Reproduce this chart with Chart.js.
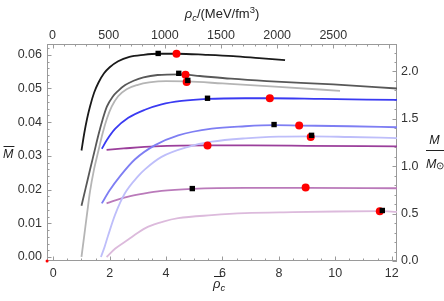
<!DOCTYPE html>
<html>
<head>
<meta charset="utf-8">
<script src="https://cdn.jsdelivr.net/npm/chart.js@4.4.1/dist/chart.umd.min.js"></script>
<style>
  html, body { margin: 0; padding: 0; background: #fff; }
  #wrap { width: 444px; height: 301px; position: relative; }
</style>
</head>
<body>
<div id="wrap"><canvas id="chart" width="444" height="301"></canvas></div>
<script>
// curves: [rho_bar_c, M_bar]
const blackCurve = [[1.0,0.0316],[1.1,0.0368],[1.2,0.0411],[1.3,0.0446],[1.45,0.0488],[1.6,0.0517],[1.8,0.0545],[2.0,0.0563],[2.3,0.0581],[2.7,0.0594],[3.2,0.0600],[3.72,0.0603],[4.4,0.0603],[5.4,0.0600],[6.38,0.0596],[7.3,0.0590],[8.22,0.0584]];
const darkGrayCurve = [[1.0,0.0152],[1.15,0.0205],[1.3,0.0258],[1.45,0.0310],[1.6,0.0362],[1.75,0.0408],[1.9,0.0446],[2.1,0.0475],[2.3,0.0493],[2.55,0.0510],[2.85,0.0523],[3.2,0.0533],[3.7,0.0540],[4.5,0.0542],[5.2,0.0537],[6.3,0.0529],[7.57,0.0522],[9.93,0.0512],[12.19,0.0500]];
const lightGrayCurve = [[1.0,0.0],[1.1,0.0065],[1.2,0.0130],[1.3,0.0193],[1.45,0.0262],[1.6,0.0315],[1.75,0.0367],[1.9,0.0410],[2.07,0.0446],[2.3,0.0477],[2.6,0.0498],[3.0,0.0511],[3.4,0.0518],[4.0,0.0522],[4.75,0.0521],[6.0,0.0515],[8.0,0.0505],[10.17,0.0493]];
const blueCurve = [[1.72,0.0321],[1.9,0.0347],[2.19,0.0380],[2.66,0.0413],[3.25,0.0437],[3.84,0.0453],[4.55,0.0463],[5.47,0.0469],[6.8,0.0471],[7.68,0.0471],[9.5,0.0469],[12.19,0.0466]];
const midBlueCurve = [[1.72,0.0159],[2.0,0.0198],[2.37,0.0240],[2.9,0.0290],[3.61,0.0332],[4.43,0.0361],[5.62,0.0381],[6.8,0.0388],[7.83,0.0391],[8.72,0.0390],[10.5,0.0388],[12.19,0.0385]];
const lightBlueCurve = [[1.69,0.0],[1.82,0.003],[1.95,0.0065],[2.19,0.0125],[2.54,0.0189],[3.01,0.0240],[3.25,0.0260],[3.84,0.0297],[4.79,0.0327],[5.62,0.0342],[6.8,0.0352],[8.0,0.0357],[9.16,0.0358],[10.5,0.0356],[12.19,0.0353]];
const purpleCurve = [[1.89,0.0318],[2.5,0.0322],[3.6,0.0328],[5.47,0.0331],[7.0,0.0331],[9.0,0.0330],[12.19,0.0328]];
const midPurpleCurve = [[1.89,0.0159],[2.2,0.0168],[2.66,0.0179],[3.2,0.0188],[3.84,0.0196],[4.93,0.0202],[6.8,0.0205],[8.95,0.0205],[12.19,0.0204]];
const lightPurpleCurve = [[1.89,0.0],[2.2,0.0025],[2.66,0.0052],[3.0,0.0072],[3.37,0.0090],[3.9,0.0105],[4.43,0.0115],[5.62,0.0124],[6.8,0.0130],[8.5,0.0133],[10.0,0.0135],[11.6,0.0136],[12.19,0.0134]];

// black squares and red dots on the curves
const squareX = [3.72, 4.45, 4.77, 5.47, 7.83, 9.16, 4.93, 11.67];
const squareY = [0.0604, 0.0545, 0.0524, 0.0471, 0.0393, 0.0361, 0.0203, 0.0138];
const dotX = [4.37, 4.69, 4.73, 7.68, 8.72, 9.13, 5.47, 8.95, 11.58];
const dotY = [0.0603, 0.0541, 0.0519, 0.0471, 0.0390, 0.0356, 0.0331, 0.0206, 0.0136];

// axis ticks
const bottomTicks = [0, 2, 4, 6, 8, 10, 12];
const topTicks = [0, 500, 1000, 1500, 2000, 2500];
const leftTicks = [0.00, 0.01, 0.02, 0.03, 0.04, 0.05, 0.06];
const rightTicks = [0.0, 0.5, 1.0, 1.5, 2.0];

const X_MIN = -0.223, X_MAX = 12.19;
const TOP_MIN = -49.4, TOP_MAX = 3067;
const Y_MIN = -0.00119, Y_MAX = 0.0632;
const R_MIN = 0, R_MAX = 2.29;

const FONT = 'Liberation Sans';
const tickFont = { family: FONT, size: 12.5 };
const tickColor = '#333';
const frameColor = '#9a9a9a';

const toPts = arr => arr.map(p => ({ x: p[0], y: p[1] }));

const lines = [
  [blackCurve, '#1a1a1a'],
  [darkGrayCurve, '#585858'],
  [lightGrayCurve, '#b5b5b5'],
  [blueCurve, '#3a3af2'],
  [midBlueCurve, '#7e7ef3'],
  [lightBlueCurve, '#bebefa'],
  [purpleCurve, '#9b3f9b'],
  [midPurpleCurve, '#ba7aba'],
  [lightPurpleCurve, '#dcbadc'],
];

const datasets = lines.map(([curve, color]) => ({
  data: toPts(curve),
  showLine: true,
  borderColor: color,
  borderWidth: 1.8,
  pointRadius: 0,
  cubicInterpolationMode: 'monotone',
  order: 3,
}));

datasets.push({
  data: dotX.map((x, i) => ({ x, y: dotY[i] })),
  pointStyle: 'circle',
  pointRadius: 4,
  backgroundColor: '#ff0000',
  borderWidth: 0,
  order: 2,
});
datasets.push({
  data: squareX.map((x, i) => ({ x, y: squareY[i] })),
  pointStyle: 'rect',
  pointRadius: 3.8,
  backgroundColor: '#000',
  borderWidth: 0,
  order: 1,
});
// tiny red mark at the lower left corner
datasets.push({
  data: [{ x: -0.22, y: -0.0012 }],
  pointRadius: 1.5,
  backgroundColor: '#ff0000',
  borderWidth: 0,
  clip: false,
  order: 0,
});

function axis(position, min, max, values, fmt, size, pad) {
  const horizontal = position === 'top' || position === 'bottom';
  return {
    type: 'linear',
    position,
    min, max,
    display: true,
    afterBuildTicks: s => { s.ticks = values.map(v => ({ value: v })); },
    afterFit: s => { if (horizontal) s.height = size; else s.width = size; },
    grid: { display: false, drawTicks: false },
    border: { display: false },
    ticks: {
      font: tickFont,
      color: tickColor,
      padding: pad,
      autoSkip: false,
      maxRotation: 0,
      callback: fmt,
    },
  };
}

// frame with inward ticks like a Mathematica frame
const frameTicks = {
  id: 'frameTicks',
  beforeDatasetsDraw(chart) {
    const { ctx, chartArea: a, scales } = chart;
    ctx.save();
    ctx.strokeStyle = frameColor;
    ctx.lineWidth = 1;
    ctx.strokeRect(a.left + 0.5, a.top + 0.5, a.right - a.left - 1, a.bottom - a.top - 1);
    const mark = (scale, major, minor, side) => {
      const start = Math.ceil(scale.min / minor - 1e-6);
      const end = Math.floor(scale.max / minor + 1e-6);
      for (let i = start; i <= end; i++) {
        const v = i * minor;
        const isMajor = Math.abs(v / major - Math.round(v / major)) < 1e-6;
        const len = isMajor ? 4.5 : 2.5;
        const p = Math.round(scale.getPixelForValue(v)) + 0.5;
        ctx.beginPath();
        if (side === 'bottom') { ctx.moveTo(p, a.bottom); ctx.lineTo(p, a.bottom - len); }
        if (side === 'top') { ctx.moveTo(p, a.top); ctx.lineTo(p, a.top + len); }
        if (side === 'left') { ctx.moveTo(a.left, p); ctx.lineTo(a.left + len, p); }
        if (side === 'right') { ctx.moveTo(a.right, p); ctx.lineTo(a.right - len, p); }
        ctx.stroke();
      }
    };
    mark(scales.x, 2, 0.5, 'bottom');
    mark(scales.x2, 500, 100, 'top');
    mark(scales.y, 0.01, 0.002, 'left');
    mark(scales.y2, 0.5, 0.1, 'right');
    ctx.restore();
  },
  afterDraw(chart) {
    const { ctx } = chart;
    ctx.save();
    ctx.fillStyle = '#222';
    ctx.textBaseline = 'alphabetic';
    const it = sz => 'italic ' + sz + 'px "' + FONT + '"';
    const up = sz => sz + 'px "' + FONT + '"';

    // top title: rho_c/(MeV/fm^3)
    const parts = [
      { t: 'ρ', f: it(13), dy: 0 },
      { t: 'c', f: it(9.5), dy: 3 },
      { t: '/(MeV/fm', f: up(13), dy: 0 },
      { t: '3', f: up(9.5), dy: -5 },
      { t: ')', f: up(13), dy: 0 },
    ];
    let w = 0;
    parts.forEach(p => { ctx.font = p.f; p.w = ctx.measureText(p.t).width; w += p.w; });
    let x = 222 - w / 2;
    parts.forEach(p => { ctx.font = p.f; ctx.fillText(p.t, x, 18 + p.dy); x += p.w; });

    // bottom title: rho bar c
    ctx.font = it(13);
    const rw = ctx.measureText('ρ').width;
    const bx = 213;
    ctx.fillText('ρ', bx, 288);
    ctx.font = it(9.5);
    ctx.fillText('c', bx + rw, 291);
    ctx.strokeStyle = '#222';
    ctx.lineWidth = 1;
    ctx.beginPath(); ctx.moveTo(bx + 1, 276.5); ctx.lineTo(bx + rw + 1.5, 276.5); ctx.stroke();

    // left title: M bar
    ctx.font = it(12.5);
    const mw = ctx.measureText('M').width;
    ctx.fillText('M', 3, 158);
    ctx.beginPath(); ctx.moveTo(3.5, 146.5); ctx.lineTo(3 + mw + 1, 146.5); ctx.stroke();

    // right title: M / M_sun
    ctx.textAlign = 'center';
    ctx.fillText('M', 434.5, 143.5);
    ctx.beginPath(); ctx.moveTo(426, 150.5); ctx.lineTo(444, 150.5); ctx.stroke();
    ctx.textAlign = 'left';
    ctx.font = it(12.5);
    ctx.fillText('M', 426, 167.5);
    ctx.font = up(9.5);
    ctx.fillText('⊙', 426 + mw, 169);
    ctx.restore();
  },
};

new Chart(document.getElementById('chart').getContext('2d'), {
  type: 'scatter',
  data: { datasets },
  options: {
    responsive: false,
    animation: false,
    layout: { padding: 0 },
    plugins: { legend: { display: false }, tooltip: { enabled: false } },
    scales: {
      x: axis('bottom', X_MIN, X_MAX, bottomTicks, v => String(v), 40, 5),
      x2: axis('top', TOP_MIN, TOP_MAX, topTicks, v => String(v), 44, 1),
      y: axis('left', Y_MIN, Y_MAX, leftTicks, v => v.toFixed(2), 47, 5),
      y2: axis('right', R_MIN, R_MAX, rightTicks, v => v.toFixed(1), 47, 4),
    },
  },
  plugins: [frameTicks],
});
</script>
</body>
</html>
